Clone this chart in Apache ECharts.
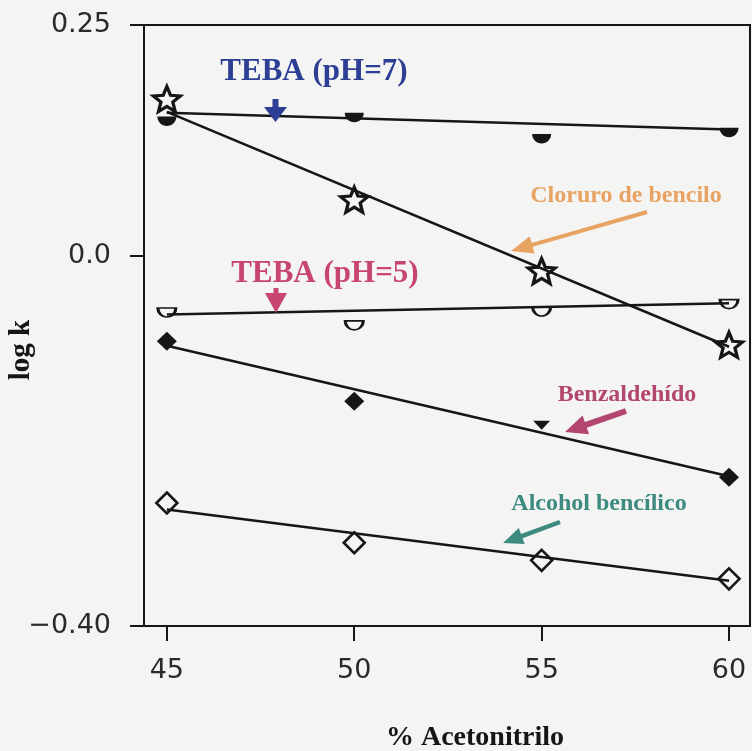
<!DOCTYPE html>
<html>
<head>
<meta charset="utf-8">
<script src="https://cdn.jsdelivr.net/npm/echarts@6/dist/echarts.min.js"></script>
<style>
  html, body { margin: 0; padding: 0; background: #f4f4f3; }
  #chart { width: 752px; height: 751px; }
</style>
</head>
<body>
<div id="chart"></div>
<script>
// % acetonitrile in the mobile phase
const acetonitrile = [45, 50, 55, 60];

// log k for each solute
const tebaPh7 = [0.151, 0.155, 0.132, 0.139];
const cloruroBencilo = [0.170, 0.061, -0.016, -0.096];
const tebaPh5 = [-0.056, -0.070, -0.055, -0.047];
const benzaldehido = [-0.092, -0.157, -0.178, -0.239];
const alcoholBencilico = [-0.267, -0.310, -0.329, -0.349];

// straight-line fits, given at both ends of the range
const fitRange = [45, 60];
const fitTebaPh7 = [0.155, 0.137];
const fitCloruro = [0.156, -0.098];
const fitTebaPh5 = [-0.063, -0.051];
const fitBenzaldehido = [-0.097, -0.238];
const fitAlcohol = [-0.274, -0.351];

// axis ticks
const xTicks = [45, 50, 55, 60];
const yTicks = [-0.40, 0.0, 0.25];
const yTickText = { '-0.4': '\u22120.40', '0': '0.0', '0.25': '0.25' };

const BG = '#f4f4f3';
const INK = '#161616';

const pairs = (xs, ys) => xs.map((x, i) => [x, ys[i]]);

// marker shapes
const halfDisc = 'path://M0,0 C0,27.6 22.4,50 50,50 C77.6,50 100,27.6 100,0 Z';
const halfDiamond = 'path://M0,0 L100,0 L50,50 Z';
const star = 'path://M50,0L62.93,32.2L97.55,34.55L70.92,56.8L79.39,90.45L50,72L20.61,90.45L29.08,56.8L2.45,34.55L37.07,32.2Z';

function fitLine(ys) {
  return {
    type: 'line',
    data: pairs(fitRange, ys),
    symbol: 'none',
    lineStyle: { color: INK, width: 2.5 },
    z: 5,
    silent: true
  };
}

// arrow polygon from tail to tip (pixel space)
function arrow(tail, tip, stem, headLen, headW, color) {
  const dx = tip[0] - tail[0], dy = tip[1] - tail[1];
  const L = Math.hypot(dx, dy);
  const ux = dx / L, uy = dy / L, nx = -uy, ny = ux;
  const bx = tip[0] - ux * headLen, by = tip[1] - uy * headLen;
  const p = (x, y, s) => [x + nx * s, y + ny * s];
  return {
    type: 'polygon',
    shape: {
      points: [
        p(tail[0], tail[1], stem / 2),
        p(bx, by, stem / 2),
        p(bx, by, headW / 2),
        tip,
        p(bx, by, -headW / 2),
        p(bx, by, -stem / 2),
        p(tail[0], tail[1], -stem / 2)
      ]
    },
    style: { fill: color },
    z: 20
  };
}

function label(text, x, y, size, color) {
  return {
    type: 'text',
    x: x, y: y,
    style: {
      text: text,
      font: 'bold ' + size + 'px "Liberation Serif", "Times New Roman", serif',
      fill: color,
      align: 'center',
      verticalAlign: 'middle'
    },
    z: 20
  };
}

const chart = echarts.init(document.getElementById('chart'), null, { renderer: 'canvas' });

chart.setOption({
  backgroundColor: BG,
  animation: false,
  grid: {
    left: 144, top: 25, width: 606, height: 601,
    show: true, borderColor: INK, borderWidth: 2, backgroundColor: 'transparent'
  },
  xAxis: {
    type: 'value',
    min: 44.39, max: 60.56,
    axisLine: { show: false, onZero: false },
    splitLine: { show: false },
    axisTick: {
      show: true, inside: false, length: 15, customValues: xTicks,
      lineStyle: { color: INK, width: 2 }
    },
    axisLabel: {
      customValues: xTicks,
      margin: 31,
      color: '#2a2a2a',
      fontFamily: '"DejaVu Sans", sans-serif',
      fontSize: 27
    }
  },
  yAxis: {
    type: 'value',
    min: -0.40, max: 0.25,
    axisLine: { show: false, onZero: false },
    splitLine: { show: false },
    axisTick: {
      show: true, inside: false, length: 14, customValues: yTicks,
      lineStyle: { color: INK, width: 2 }
    },
    axisLabel: {
      customValues: yTicks,
      margin: 33,
      color: '#2a2a2a',
      fontFamily: '"DejaVu Sans", sans-serif',
      fontSize: 27,
      formatter: v => yTickText[String(Math.round(v * 100) / 100)] ?? String(v)
    }
  },
  series: [
    // TEBA pH 7: filled lower half discs
    {
      type: 'scatter', name: 'TEBA (pH=7)',
      data: pairs(acetonitrile, tebaPh7),
      symbol: halfDisc, symbolSize: [19, 9.5], symbolOffset: [0, '50%'],
      itemStyle: { color: INK, opacity: 1 },
      z: 3
    },
    // benzyl chloride: open stars
    {
      type: 'scatter', name: 'Cloruro de bencilo',
      data: pairs(acetonitrile, cloruroBencilo),
      symbol: star, symbolSize: [27, 25],
      itemStyle: { color: BG, borderColor: INK, borderWidth: 3.2, opacity: 1 },
      z: 3
    },
    // TEBA pH 5: open lower half discs
    {
      type: 'scatter', name: 'TEBA (pH=5)',
      data: pairs(acetonitrile, tebaPh5),
      symbol: halfDisc, symbolSize: [18, 9], symbolOffset: [0, '50%'],
      itemStyle: { color: BG, borderColor: INK, borderWidth: 2.2, opacity: 1 },
      z: 3
    },
    // benzaldehyde: filled diamonds
    {
      type: 'scatter', name: 'Benzaldehído',
      data: pairs(acetonitrile, benzaldehido),
      symbol: (v, p) => (p.dataIndex === 2 ? halfDiamond : 'diamond'),
      symbolSize: (v, p) => (p.dataIndex === 2 ? [17, 9] : [20, 19]),
      symbolOffset: (v, p) => (p.dataIndex === 2 ? [0, '50%'] : [0, 0]),
      itemStyle: { color: INK, opacity: 1 },
      z: 3
    },
    // benzyl alcohol: open diamonds
    {
      type: 'scatter', name: 'Alcohol bencílico',
      data: pairs(acetonitrile, alcoholBencilico),
      symbol: 'diamond', symbolSize: [21, 21],
      itemStyle: { color: BG, borderColor: INK, borderWidth: 2.6, opacity: 1 },
      z: 3
    },
    fitLine(fitTebaPh7),
    fitLine(fitCloruro),
    fitLine(fitTebaPh5),
    fitLine(fitBenzaldehido),
    fitLine(fitAlcohol)
  ],
  graphic: [
    {
      type: 'text', x: 22, y: 350, rotation: Math.PI / 2,
      style: {
        text: 'log k',
        font: 'bold 29px "Liberation Serif", "Times New Roman", serif',
        fill: INK, align: 'center', verticalAlign: 'middle'
      }
    },
    {
      type: 'text', x: 475, y: 738,
      style: {
        text: '% Acetonitrilo',
        font: 'bold 28px "Liberation Serif", "Times New Roman", serif',
        fill: INK, align: 'center', verticalAlign: 'middle'
      }
    },
    label('TEBA (pH=7)', 314, 72, 31, '#2d3f95'),
    arrow([275.5, 99], [275.5, 122], 6, 15, 23, '#2d3f95'),
    label('TEBA (pH=5)', 325, 274, 31, '#c7456f'),
    arrow([276, 288], [276, 313], 5, 20, 22, '#c7456f'),
    label('Cloruro de bencilo', 626, 196, 24, '#e8a362'),
    arrow([647, 212], [511, 251], 4, 22, 18, '#e8a362'),
    label('Benzaldehído', 627, 395, 24, '#b34670'),
    arrow([626, 411], [565, 432], 6, 22, 20, '#b34670'),
    label('Alcohol bencílico', 599, 504, 24, '#3d8b80'),
    arrow([560, 522], [503, 543], 4.5, 20, 17, '#3d8b80')
  ]
});
</script>
</body>
</html>
